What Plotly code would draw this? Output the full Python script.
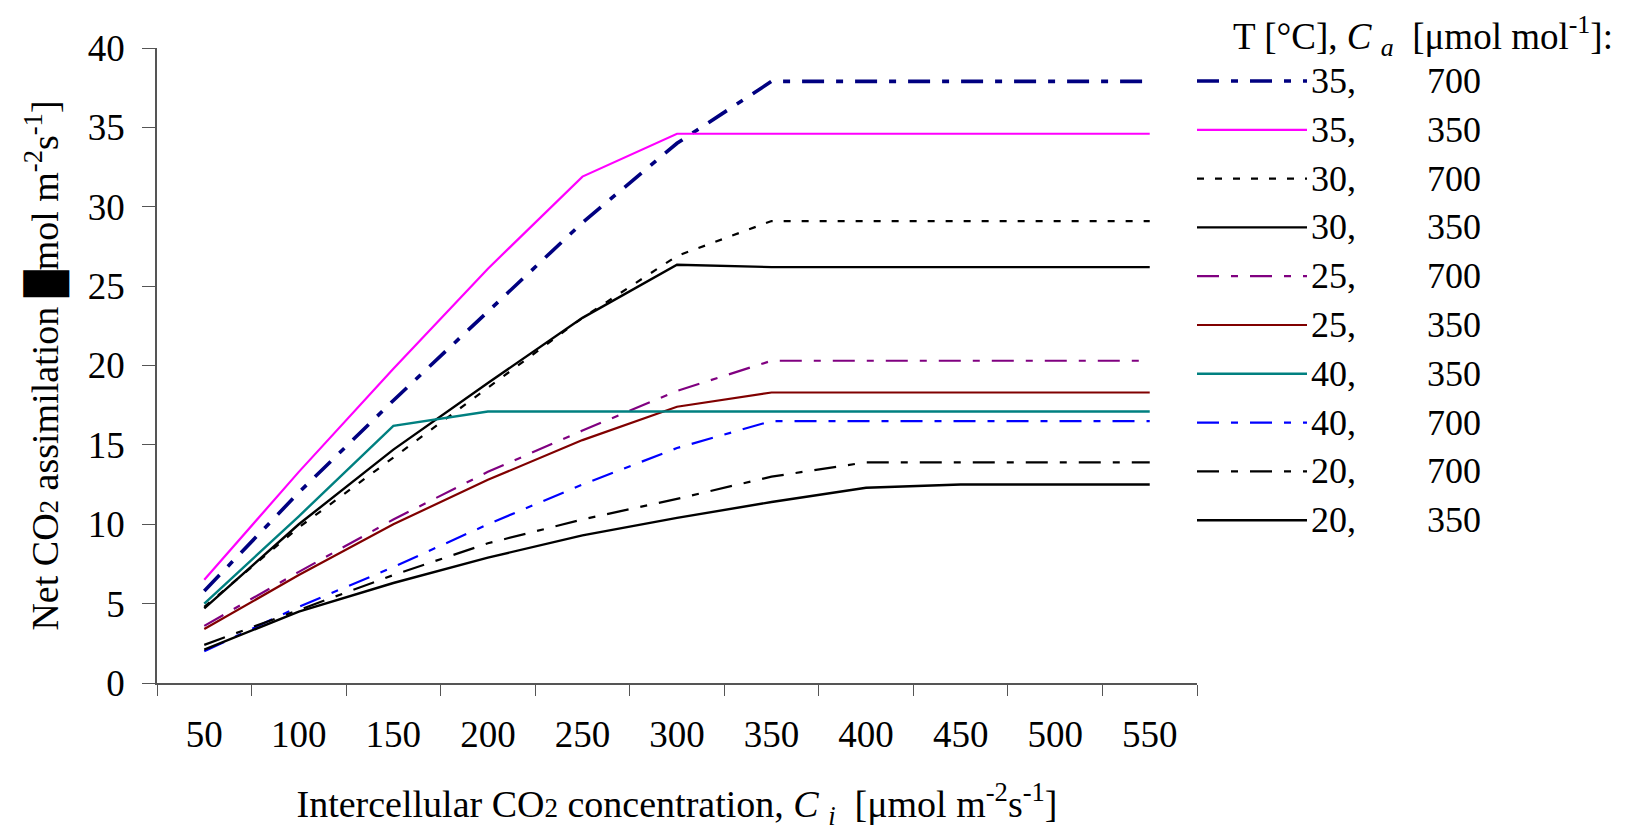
import plotly.graph_objects as go

# ---- data ----
ci = [50, 100, 150, 200, 250, 300, 350, 400, 450, 500, 550]
temps = [35, 35, 30, 30, 25, 25, 40, 40, 20, 20]
ca = [700, 350, 700, 350, 700, 350, 350, 700, 700, 350]
a_35_700 = [5.8, 12.0, 17.8, 23.4, 29.0, 34.0, 37.9, 37.9, 37.9, 37.9, 37.9]
a_35_350 = [6.5, 13.3, 19.8, 26.1, 31.9, 34.6, 34.6, 34.6, 34.6, 34.6, 34.6]
a_30_700 = [4.8, 9.8, 14.2, 18.6, 23.0, 26.9, 29.1, 29.1, 29.1, 29.1, 29.1]
a_30_350 = [4.7, 10.0, 14.7, 18.9, 23.0, 26.35, 26.2, 26.2, 26.2, 26.2, 26.2]
a_25_700 = [3.6, 7.0, 10.3, 13.3, 15.9, 18.4, 20.3, 20.3, 20.3, 20.3, 20.3]
a_25_350 = [3.4, 6.8, 10.0, 12.8, 15.3, 17.4, 18.3, 18.3, 18.3, 18.3, 18.3]
a_40_350 = [5.0, 10.5, 16.2, 17.1, 17.1, 17.1, 17.1, 17.1, 17.1, 17.1, 17.1]
a_40_700 = [2.0, 4.8, 7.3, 10.0, 12.5, 14.8, 16.5, 16.5, 16.5, 16.5, 16.5]
a_20_700 = [2.4, 4.6, 6.8, 8.8, 10.3, 11.6, 13.0, 13.9, 13.9, 13.9, 13.9]
a_20_350 = [2.1, 4.5, 6.3, 7.9, 9.3, 10.4, 11.4, 12.3, 12.5, 12.5, 12.5]
series = [a_35_700, a_35_350, a_30_700, a_30_350, a_25_700,
          a_25_350, a_40_350, a_40_700, a_20_700, a_20_350]

# ---- styles ----
DD = "22px,12px,7px,12px"
DOT = "7px,11px"
colors = ["#000080", "#FF00FF", "#000000", "#000000", "#800080",
          "#800000", "#008080", "#0000FF", "#000000", "#000000"]
dashes = [DD, "solid", DOT, "solid", DD, "solid", "solid", DD, DD, "solid"]
widths = [3.6, 2.2, 2.2, 2.4, 2.2, 2.2, 2.4, 2.2, 2.2, 2.4]

FONT = "Liberation Serif, Times New Roman, serif"
cats = [str(c) for c in ci]

fig = go.Figure()
for ys, col, d, w, t, c in zip(series, colors, dashes, widths, temps, ca):
    fig.add_trace(go.Scatter(x=cats, y=ys, mode="lines",
                             line=dict(color=col, dash=d, width=w),
                             name=f"{t}, {c}", showlegend=False))

L, R, T, B = 157, 448, 48, 149
W, H = 1645, 832
pw, ph = W - L - R, H - T - B

def px_x(x):
    return (x - L) / pw

def px_y(y):
    return 1 - (y - T) / ph

shapes = []
annotations = []
row0, gap = 81, 48.8
for i, (col, d, w, t, c) in enumerate(zip(colors, dashes, widths, temps, ca)):
    y = row0 + i * gap
    shapes.append(dict(type="line", xref="paper", yref="paper",
                       x0=px_x(1197), x1=px_x(1307), y0=px_y(y), y1=px_y(y),
                       line=dict(color=col, dash=d, width=w)))
    annotations.append(dict(xref="paper", yref="paper", x=px_x(1309), y=px_y(y),
                            xanchor="left", yanchor="middle", showarrow=False,
                            text=f"{t},", font=dict(family=FONT, size=36, color="black")))
    annotations.append(dict(xref="paper", yref="paper", x=px_x(1425), y=px_y(y),
                            xanchor="left", yanchor="middle", showarrow=False,
                            text=f"{c}", font=dict(family=FONT, size=36, color="black")))
annotations.append(dict(xref="paper", yref="paper", x=px_x(1231), y=px_y(36),
                        xanchor="left", yanchor="middle", showarrow=False,
                        text="T [°C], <i>C</i> <sub><i>a</i></sub>  [μmol mol<sup>-1</sup>]:",
                        font=dict(family=FONT, size=37, color="black")))

fig.update_layout(
    width=W, height=H,
    margin=dict(l=L, r=R, t=T, b=B),
    plot_bgcolor="white", paper_bgcolor="white",
    font=dict(family=FONT, size=37, color="black"),
    shapes=shapes, annotations=annotations,
    xaxis=dict(type="category", range=[-0.5, 10.5], tickson="boundaries",
               ticks="outside", ticklen=11, tickcolor="#555", tickwidth=1.3,
               showline=True, linecolor="#555", linewidth=1.5, showgrid=False,
               ticklabelstandoff=18,
               tickfont=dict(family=FONT, size=37),
               title=dict(text="Intercellular CO<span style='font-size:27px'>2</span> concentration, <i>C</i> <sub><i>i</i></sub>  [μmol m<sup>-2</sup>s<sup>-1</sup>]",
                          font=dict(family=FONT, size=38), standoff=36)),
    yaxis=dict(range=[0, 40], dtick=5, ticks="outside", ticklen=13,
               tickcolor="#555", tickwidth=1.3, showline=True, linecolor="#555",
               linewidth=1.5, showgrid=False, zeroline=False,
               ticklabelstandoff=10,
               tickfont=dict(family=FONT, size=37),
               title=dict(text="Net CO<span style='font-size:27px'>2</span> assimilation █mol m<sup>-2</sup>s<sup>-1</sup>]",
                          font=dict(family=FONT, size=38), standoff=18)),
)

fig.write_html("out.html")
